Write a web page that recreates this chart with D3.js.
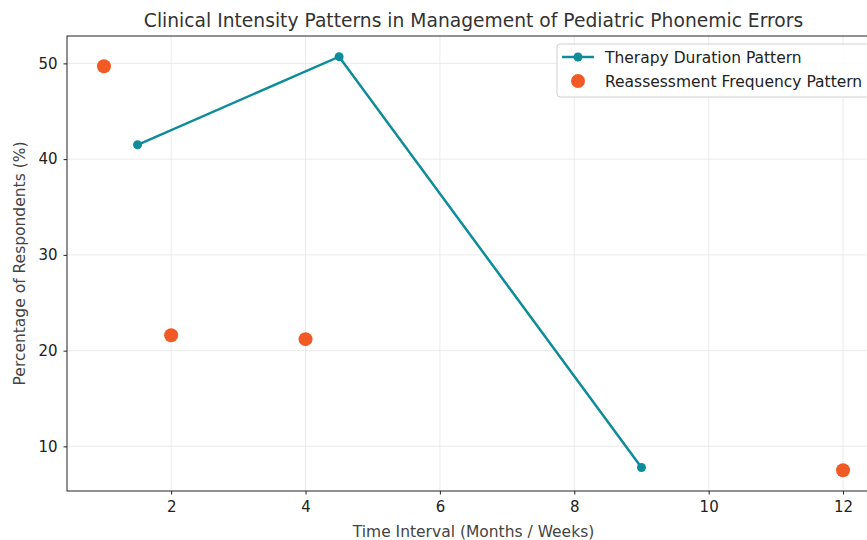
<!DOCTYPE html>
<html>
<head>
<meta charset="utf-8">
<script src="https://cdn.jsdelivr.net/npm/d3@7"></script>
<style>
  body { margin: 0; background: #fff; }
  text { font-family: "DejaVu Sans", sans-serif; }
</style>
</head>
<body>
<div id="chart"></div>
<script>
// therapy duration line and reassessment frequency scatter
const therapyX = [1.5, 4.5, 9];
const therapyY = [41.5, 50.7, 7.8];
const reassessX = [1, 2, 4, 12];
const reassessY = [49.7, 21.6, 21.2, 7.5];
const xTicks = [2, 4, 6, 8, 10, 12];
const yTicks = [10, 20, 30, 40, 50];

const W = 867, H = 540;
const margin = { top: 36, right: -13, bottom: 49, left: 67 };
const width = W - margin.left - margin.right;
const height = H - margin.top - margin.bottom;

const svg = d3.select('#chart')
  .append('svg')
  .attr('width', W)
  .attr('height', H);

const g = svg.append('g')
  .attr('transform', `translate(${margin.left},${margin.top})`);

const x = d3.scaleLinear().domain([0.45, 12.55]).range([0, width]);
const y = d3.scaleLinear().domain([5.34, 52.86]).range([height, 0]);

// grid
g.append('g').selectAll('line').data(xTicks).enter().append('line')
  .attr('x1', d => x(d)).attr('x2', d => x(d))
  .attr('y1', 0).attr('y2', height)
  .attr('stroke', '#e6e6e6').attr('stroke-width', 0.8);
g.append('g').selectAll('line').data(yTicks).enter().append('line')
  .attr('y1', d => y(d)).attr('y2', d => y(d))
  .attr('x1', 0).attr('x2', width)
  .attr('stroke', '#e6e6e6').attr('stroke-width', 0.8);

// axes
const xAxis = g.append('g')
  .attr('transform', `translate(0,${height})`)
  .call(d3.axisBottom(x).tickValues(xTicks).tickSize(3.5).tickPadding(7));
const yAxis = g.append('g')
  .call(d3.axisLeft(y).tickValues(yTicks).tickSize(3.5).tickPadding(6));
[xAxis, yAxis].forEach(a => {
  a.select('.domain').remove();
  a.selectAll('text').style('font-size', '15px').attr('fill', '#222');
  a.selectAll('line').attr('stroke', '#222');
});

// frame
g.append('rect')
  .attr('width', width).attr('height', height)
  .attr('fill', 'none').attr('stroke', '#222').attr('stroke-width', 1);

const teal = '#0e8c99';
const orange = '#f15a24';

// line
const pts = therapyX.map((d, i) => [d, therapyY[i]]);
g.append('path')
  .datum(pts)
  .attr('fill', 'none')
  .attr('stroke', teal)
  .attr('stroke-width', 2.5)
  .attr('d', d3.line().x(d => x(d[0])).y(d => y(d[1])));
g.selectAll('.tp').data(pts).enter().append('circle')
  .attr('cx', d => x(d[0])).attr('cy', d => y(d[1]))
  .attr('r', 4.5).attr('fill', teal);

// scatter
g.selectAll('.rp').data(reassessX.map((d, i) => [d, reassessY[i]])).enter().append('circle')
  .attr('cx', d => x(d[0])).attr('cy', d => y(d[1]))
  .attr('r', 7).attr('fill', orange);

// title and labels
svg.append('text')
  .attr('x', margin.left + width / 2).attr('y', 27)
  .attr('text-anchor', 'middle')
  .style('font-size', '18.7px').attr('fill', '#333')
  .text('Clinical Intensity Patterns in Management of Pediatric Phonemic Errors');
svg.append('text')
  .attr('x', margin.left + width / 2).attr('y', 537)
  .attr('text-anchor', 'middle')
  .style('font-size', '15.5px').attr('fill', '#444')
  .text('Time Interval (Months / Weeks)');
svg.append('text')
  .attr('transform', `translate(25,${margin.top + height / 2}) rotate(-90)`)
  .attr('text-anchor', 'middle')
  .style('font-size', '15.5px').attr('fill', '#444')
  .text('Percentage of Respondents (%)');

// legend
const lg = svg.append('g').attr('transform', 'translate(557,44)');
lg.append('rect')
  .attr('width', 330).attr('height', 53).attr('rx', 3)
  .attr('fill', 'rgba(255,255,255,0.85)').attr('stroke', '#d0d0d0');
lg.append('line').attr('x1', 5).attr('x2', 37).attr('y1', 13).attr('y2', 13)
  .attr('stroke', teal).attr('stroke-width', 2.5);
lg.append('circle').attr('cx', 21).attr('cy', 13).attr('r', 4.5).attr('fill', teal);
lg.append('circle').attr('cx', 21).attr('cy', 37).attr('r', 7).attr('fill', orange);
lg.append('text').attr('x', 48).attr('y', 19).style('font-size', '15.5px').attr('fill', '#222')
  .text('Therapy Duration Pattern');
lg.append('text').attr('x', 48).attr('y', 43).style('font-size', '15.5px').attr('fill', '#222')
  .text('Reassessment Frequency Pattern');
</script>
</body>
</html>
